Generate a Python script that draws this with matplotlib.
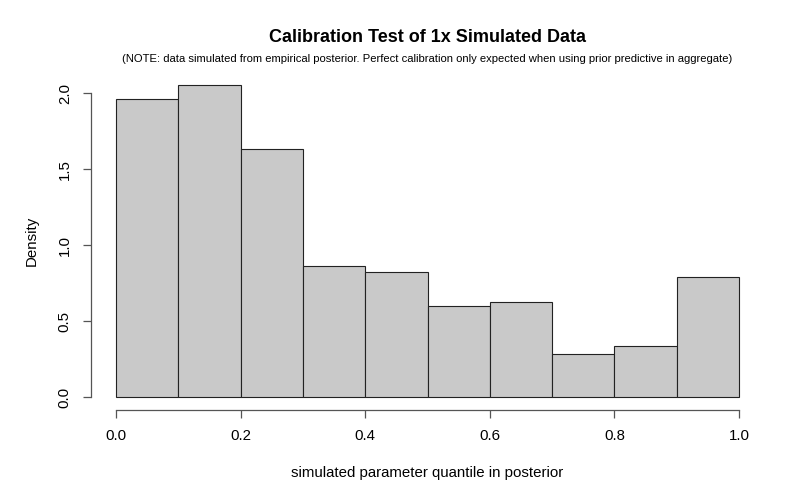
import matplotlib
matplotlib.use("Agg")
import matplotlib.pyplot as plt
import numpy as np

plt.rcParams['font.family'] = ['Liberation Sans', 'DejaVu Sans']

# histogram of posterior quantiles, 10 bins on [0, 1]
bin_edges = [0.0, 0.1, 0.2, 0.3, 0.4, 0.5, 0.6, 0.7, 0.8, 0.9, 1.0]
density = [1.965, 2.055, 1.637, 0.862, 0.827, 0.604, 0.628, 0.288, 0.338, 0.792]

x_ticks = [0.0, 0.2, 0.4, 0.6, 0.8, 1.0]
y_ticks = [0.0, 0.5, 1.0, 1.5, 2.0]

fig = plt.figure(figsize=(8, 5), dpi=100)
ax = fig.add_axes([0.114, 0.18, 0.841, 0.676])

left = np.array(bin_edges[:-1])
widths = np.diff(bin_edges)
ax.bar(left, density, width=widths, align='edge', color='#c9c9c9',
       edgecolor='#222222', linewidth=0.8)

ax.set_xlim(-0.04, 1.04)
ax.set_ylim(-0.0824, 2.14)

for s in ['top', 'right']:
    ax.spines[s].set_visible(False)
ax.spines['bottom'].set_bounds(0, 1)
ax.spines['left'].set_bounds(0, 2)
for s in ['bottom', 'left']:
    ax.spines[s].set_color('#555555')
    ax.spines[s].set_linewidth(0.9)

ax.set_xticks(x_ticks)
ax.set_xticklabels([f"{v:.1f}" for v in x_ticks])
ax.set_yticks(y_ticks)
ax.set_yticklabels([f"{v:.1f}" for v in y_ticks], rotation=90, va='center')
ax.tick_params(axis='both', length=6, width=0.9, color='#555555',
               labelsize=10.8, pad=8)

ax.set_xlabel("simulated parameter quantile in posterior", fontsize=10.8, labelpad=16)
ax.set_ylabel("Density", fontsize=10.8, labelpad=14)

fig.text(0.534, 0.924, "Calibration Test of 1x Simulated Data",
         ha='center', va='center', fontsize=13, fontweight='bold')
fig.text(0.534, 0.882,
         "(NOTE: data simulated from empirical posterior. Perfect calibration only "
         "expected when using prior predictive in aggregate)",
         ha='center', va='center', fontsize=8.1)

fig.savefig("out.png", dpi=100)
